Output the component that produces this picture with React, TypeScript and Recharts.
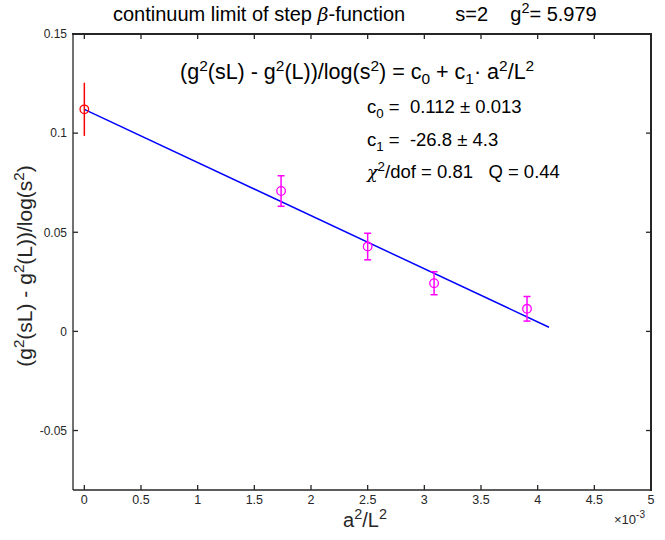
import React from 'react';
import { ComposedChart, Scatter, Line, XAxis, YAxis, ErrorBar } from 'recharts';

const xTicks = [0, 0.0005, 0.001, 0.0015, 0.002, 0.0025, 0.003, 0.0035, 0.004, 0.0045, 0.005];
const xTickLabels = ['0', '0.5', '1', '1.5', '2', '2.5', '3', '3.5', '4', '4.5', '5'];
const yTicks = [-0.05, 0, 0.05, 0.1, 0.15];
const yTickLabels = ['-0.05', '0', '0.05', '0.1', '0.15'];

const xDomain = [-0.0001, 0.005];
const yDomain = [-0.08, 0.15];

const contX = [0];
const contY = [0.112];
const contErr = [0.0134];

const latX = [0.001736, 0.0025, 0.003086, 0.003906];
const latY = [0.0708, 0.0428, 0.0243, 0.0114];
const latErr = [0.0077, 0.0067, 0.0058, 0.0062];

const fitX = [0, 0.0041];
const fitY = [0.112, 0.0021];

const contData = contX.map((x, i) => ({ x, y: contY[i], e: contErr[i] }));
const latData = latX.map((x, i) => ({ x, y: latY[i], e: latErr[i] }));
const fitData = fitX.map((x, i) => ({ x, y: fitY[i] }));

// mirrored ticks on the top and right edges, placed through the axes' scales
const topTickData = xTicks.map((t) => ({ x: t, y: yDomain[1] }));
const rightTickData = yTicks.map((v) => ({ x: xDomain[1], y: v }));

const FONT = '"Liberation Sans", Arial, Helvetica, sans-serif';
const AX = '#262626';

// plot box geometry (chart margins / axis sizes)
const PLOT_LEFT = 73;
const PLOT_TOP = 34;
const PLOT_RIGHT = 651;
const PLOT_BOTTOM = 490;

const fmtX = (v: number) => {
  const i = xTicks.findIndex((t) => Math.abs(t - v) < 1e-9);
  return i >= 0 ? xTickLabels[i] : '';
};
const fmtY = (v: number) => {
  const i = yTicks.findIndex((t) => Math.abs(t - v) < 1e-9);
  return i >= 0 ? yTickLabels[i] : '';
};

const circle = (color: string) => (props: any) => {
  const { cx, cy } = props;
  return <circle cx={cx} cy={cy} r={4.3} fill="none" stroke={color} strokeWidth={1.3} />;
};
const topTick = (props: any) => {
  const { cx, cy } = props;
  return <line x1={cx} y1={cy} x2={cx} y2={cy + 5} stroke={AX} strokeWidth={1.3} />;
};
const rightTick = (props: any) => {
  const { cx, cy } = props;
  return <line x1={cx - 5} y1={cy} x2={cx} y2={cy} stroke={AX} strokeWidth={1.3} />;
};

const supStyle: React.CSSProperties = { fontSize: '0.72em', verticalAlign: '0.55em', lineHeight: 0 };
const subStyle: React.CSSProperties = { fontSize: '0.72em', verticalAlign: '-0.35em', lineHeight: 0 };

export default function App() {
  return (
    <div style={{ position: 'absolute', left: 0, top: 0, width: 665, height: 540, background: '#fff', fontFamily: FONT }}>
      <ComposedChart
        width={665}
        height={540}
        margin={{ top: PLOT_TOP, right: 665 - PLOT_RIGHT, left: 0, bottom: 0 }}
        data={latData}
      >
        <XAxis
          dataKey="x"
          type="number"
          domain={xDomain}
          ticks={xTicks}
          tickFormatter={fmtX}
          interval={0}
          height={540 - PLOT_BOTTOM}
          tickSize={-5}
          tickMargin={10}
          stroke={AX}
          tick={{ fill: '#262626', fontSize: 12.5, fontFamily: FONT }}
          axisLine={{ stroke: AX, strokeWidth: 1.3 }}
          tickLine={{ stroke: AX, strokeWidth: 1.3 }}
        />
        <YAxis
          dataKey="y"
          type="number"
          domain={yDomain}
          ticks={yTicks}
          tickFormatter={fmtY}
          interval={0}
          width={PLOT_LEFT}
          tickSize={-5}
          tickMargin={11}
          stroke={AX}
          tick={{ fill: '#262626', fontSize: 12, fontFamily: FONT }}
          axisLine={{ stroke: AX, strokeWidth: 1.3 }}
          tickLine={{ stroke: AX, strokeWidth: 1.3 }}
        />
        <Scatter data={topTickData} dataKey="y" shape={topTick} isAnimationActive={false} />
        <Scatter data={rightTickData} dataKey="y" shape={rightTick} isAnimationActive={false} />
        <Line
          data={fitData}
          dataKey="y"
          type="linear"
          stroke="#0000ff"
          strokeWidth={1.5}
          dot={false}
          activeDot={false}
          isAnimationActive={false}
        />
        <Scatter data={contData} dataKey="y" shape={circle('#ff0000')} isAnimationActive={false}>
          <ErrorBar dataKey="e" direction="y" width={0} stroke="#ff0000" strokeWidth={1.5} isAnimationActive={false} />
        </Scatter>
        <Scatter data={latData} dataKey="y" shape={circle('#ff00ff')} isAnimationActive={false}>
          <ErrorBar dataKey="e" direction="y" width={3.5} stroke="#ff00ff" strokeWidth={1.5} isAnimationActive={false} />
        </Scatter>
      </ComposedChart>

      {/* top and right edges of the axes box */}
      <div style={{ position: 'absolute', left: PLOT_LEFT - 0.65, top: PLOT_TOP - 0.65, width: PLOT_RIGHT - PLOT_LEFT + 1.3, height: 1.3, background: AX, pointerEvents: 'none' }} />
      <div style={{ position: 'absolute', left: PLOT_RIGHT - 0.65, top: PLOT_TOP - 0.65, width: 1.3, height: PLOT_BOTTOM - PLOT_TOP + 1.3, background: AX, pointerEvents: 'none' }} />

      <div style={{ position: 'absolute', left: 113, top: 3, fontSize: 20, color: '#000', whiteSpace: 'pre' }}>
        continuum limit of step <i style={{ fontFamily: '"DejaVu Serif", serif', fontSize: 19 }}>β</i>-function{'         '}s=2{'    '}g<span style={supStyle}>2</span>= 5.979
      </div>

      <div style={{ position: 'absolute', left: 180, top: 60, fontSize: 21.5, color: '#000', whiteSpace: 'pre' }}>
        (g<span style={supStyle}>2</span>(sL) - g<span style={supStyle}>2</span>(L))/log(s<span style={supStyle}>2</span>) = c<span style={subStyle}>0</span> + c<span style={subStyle}>1</span>· a<span style={supStyle}>2</span>/L<span style={supStyle}>2</span>
      </div>
      <div style={{ position: 'absolute', left: 367, top: 96, fontSize: 18.5, color: '#000', whiteSpace: 'pre' }}>
        c<span style={subStyle}>0</span> =  0.112 ± 0.013
      </div>
      <div style={{ position: 'absolute', left: 367, top: 129, fontSize: 18.5, color: '#000', whiteSpace: 'pre' }}>
        c<span style={subStyle}>1</span> =  -26.8 ± 4.3
      </div>
      <div style={{ position: 'absolute', left: 367, top: 161, fontSize: 18.5, color: '#000', whiteSpace: 'pre' }}>
        <i style={{ fontFamily: '"DejaVu Serif", serif', fontSize: 17.5 }}>χ</i><span style={supStyle}>2</span>/dof = 0.81   Q = 0.44
      </div>

      <div style={{ position: 'absolute', left: 0, width: 730, top: 509, textAlign: 'center', fontSize: 20, color: '#262626', whiteSpace: 'pre' }}>
        a<span style={supStyle}>2</span>/L<span style={supStyle}>2</span>
      </div>
      <div style={{ position: 'absolute', left: 614, top: 512, fontSize: 13, color: '#262626', whiteSpace: 'pre' }}>
        ×10<span style={{ fontSize: 10, verticalAlign: '0.6em', lineHeight: 0 }}>-3</span>
      </div>

      <div style={{ position: 'absolute', left: 25, top: 266, width: 0, height: 0 }}>
        <div style={{ position: 'absolute', transform: 'translate(-50%, -50%) rotate(-90deg)', fontSize: 21, color: '#262626', whiteSpace: 'pre' }}>
          (g<span style={supStyle}>2</span>(sL) - g<span style={supStyle}>2</span>(L))/log(s<span style={supStyle}>2</span>)
        </div>
      </div>
    </div>
  );
}
